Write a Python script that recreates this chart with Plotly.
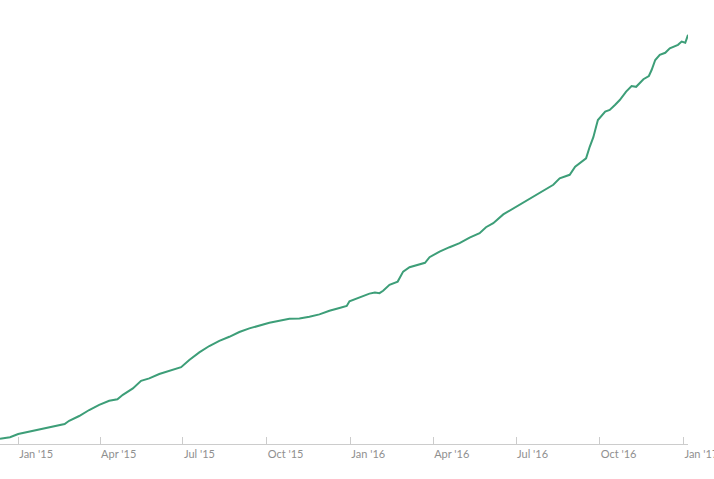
import plotly.graph_objects as go

dates = [
    "2014-12-12", "2014-12-23", "2015-01-01", "2015-01-14", "2015-01-25", "2015-02-05",
    "2015-02-15", "2015-02-21", "2015-02-26", "2015-03-09", "2015-03-20", "2015-03-31",
    "2015-04-11", "2015-04-20", "2015-04-26", "2015-05-07", "2015-05-16", "2015-05-25",
    "2015-06-05", "2015-06-16", "2015-06-29", "2015-07-08", "2015-07-19", "2015-07-30",
    "2015-08-10", "2015-08-21", "2015-09-01", "2015-09-12", "2015-09-23", "2015-10-04",
    "2015-10-15", "2015-10-26", "2015-11-06", "2015-11-17", "2015-11-28", "2015-12-09",
    "2015-12-20", "2015-12-28", "2015-12-31", "2016-01-11", "2016-01-22", "2016-01-28",
    "2016-02-02", "2016-02-06", "2016-02-13", "2016-02-22", "2016-02-28", "2016-03-06",
    "2016-03-17", "2016-03-23", "2016-03-28", "2016-04-08", "2016-04-19", "2016-04-30",
    "2016-05-11", "2016-05-22", "2016-05-29", "2016-06-06", "2016-06-17", "2016-06-28",
    "2016-07-09", "2016-07-20", "2016-07-31", "2016-08-11", "2016-08-18", "2016-08-29",
    "2016-09-04", "2016-09-09", "2016-09-16", "2016-09-20", "2016-09-24", "2016-09-27",
    "2016-09-29", "2016-10-07", "2016-10-12", "2016-10-18", "2016-10-23", "2016-10-30",
    "2016-11-05", "2016-11-10", "2016-11-18", "2016-11-24", "2016-11-27", "2016-12-01",
    "2016-12-06", "2016-12-12", "2016-12-17", "2016-12-26", "2016-12-30", "2017-01-03",
    "2017-01-06",
]

values = [
    1.3, 1.7, 2.5, 3.1, 3.6, 4.2,
    4.7, 5.0, 5.8, 7.0, 8.5, 9.8,
    10.8, 11.2, 12.3, 13.9, 15.8, 16.4,
    17.5, 18.3, 19.2, 21.0, 22.9, 24.5,
    25.8, 26.8, 28.0, 28.9, 29.6, 30.3,
    30.8, 31.3, 31.4, 31.8, 32.4, 33.3,
    34.0, 34.5, 35.7, 36.7, 37.6, 37.9,
    37.7, 38.3, 39.8, 40.6, 43.1, 44.2,
    45.0, 45.3, 46.7, 48.1, 49.2, 50.2,
    51.6, 52.7, 54.2, 55.2, 57.4, 58.9,
    60.3, 62.0, 63.3, 64.8, 66.4, 67.3,
    69.3, 70.2, 71.4, 74.3, 76.7, 79.3,
    81.0, 83.1, 83.5, 84.8, 86.0, 88.1,
    89.5, 89.3, 91.2, 92.0, 93.5, 96.0,
    97.3, 97.8, 98.9, 99.8, 100.6, 100.3,
    102.3,
]

tick_dates = ["2015-01-01", "2015-04-01", "2015-07-01", "2015-10-01", "2016-01-01",
              "2016-04-01", "2016-07-01", "2016-10-01", "2017-01-01"]
tick_labels = ["Jan '15", "Apr '15", "Jul '15", "Oct '15", "Jan '16",
               "Apr '16", "Jul '16", "Oct '16", "Jan '17"]

fig = go.Figure()
fig.add_trace(go.Scatter(
    x=dates, y=values, mode="lines",
    line=dict(color="#3d9e78", width=2),
    hoverinfo="x+y",
))

fig.update_layout(
    width=714, height=479,
    margin=dict(l=0, r=26, t=0, b=35),
    paper_bgcolor="white", plot_bgcolor="white",
    showlegend=False,
    xaxis=dict(
        range=["2014-12-12", "2017-01-06"],
        tickvals=tick_dates, ticktext=tick_labels,
        ticks="inside", ticklen=7, tickcolor="#cccccc", tickwidth=1,
        ticklabelposition="outside right", ticklabeloverflow="allow",
        showline=True, linecolor="#cccccc", linewidth=1,
        showgrid=False, zeroline=False, automargin=False,
        tickfont=dict(family="Lato, sans-serif", size=11, color="#8f8f8f"),
    ),
    yaxis=dict(
        range=[0, 111], visible=False, showgrid=False, zeroline=False,
    ),
)

fig.write_html("out.html", config={"displayModeBar": False},
               post_script="document.body.style.margin='0px';")
